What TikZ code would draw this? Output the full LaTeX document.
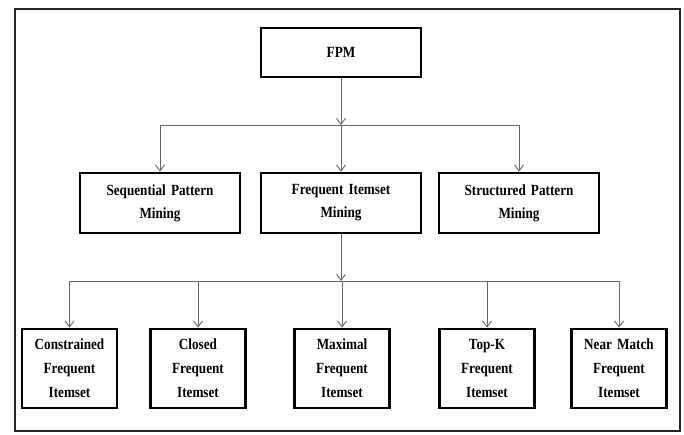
\documentclass[tikz,border=0pt]{standalone}
\usepackage{fontspec}
\setmainfont{Liberation Serif}
\newfontfamily\condfont[FakeStretch=0.85]{Liberation Serif}
\usetikzlibrary{arrows.meta}
\begin{document}
\begin{tikzpicture}[x=1pt,y=-1pt,
  box/.style={draw=black,line width=2.8pt,fill=white,inner sep=0pt,align=center,
    font=\condfont\bfseries\fontsize{15.5}{23}\selectfont},
  topbox/.style={box,minimum width=160pt,minimum height=49pt},
  midbox/.style={box,minimum width=160pt,minimum height=60pt,text width=150pt},
  lowbox/.style={box,minimum width=95pt,minimum height=79pt,text width=90pt,
    font=\condfont\bfseries\fontsize{15.5}{24}\selectfont},
  link/.style={draw=black!60,line width=0.9pt},
  arr/.style={link,-{Straight Barb[length=6pt,width=9pt,line width=0.9pt]}}]
\useasboundingbox (0,0) rectangle (684,434);
\fill[white] (0,0) rectangle (684,434);
\draw[line width=2pt,draw=black!85] (15,9) rectangle (680,431);

\node[topbox] (fpm) at (341,52.5) {FPM};

\node[midbox] (seq) at (160,203) {Sequential Pattern\\Mining};
\node[midbox] (fim) at (341,203) {Frequent Itemset\\Mining};
\node[midbox] (str) at (519,203) {Structured Pattern\\Mining};

\node[lowbox] (con) at (69.5,368.5) {Constrained\\Frequent\\Itemset};
\node[lowbox] (clo) at (198,368.5) {Closed\\Frequent\\Itemset};
\node[lowbox] (max) at (342,368.5) {Maximal\\Frequent\\Itemset};
\node[lowbox] (top) at (487,368.5) {Top-K\\Frequent\\Itemset};
\node[lowbox] (nea) at (619,368.5) {Near Match\\Frequent\\Itemset};

\coordinate (j1) at (341,125);
\coordinate (j2) at (341,281);

\draw[arr] (fpm.south) -- (j1);
\draw[link] (j1 -| seq.north) -- (j1 -| str.north);
\draw[arr] (j1 -| seq.north) -- (seq.north);
\draw[arr] (j1) -- (fim.north);
\draw[arr] (j1 -| str.north) -- (str.north);

\draw[arr] (fim.south) -- (j2);
\draw[link] (j2 -| con.north) -- (j2 -| nea.north);
\draw[arr] (j2 -| con.north) -- (con.north);
\draw[arr] (j2 -| clo.north) -- (clo.north);
\draw[arr] (j2 -| max.north) -- (max.north);
\draw[arr] (j2 -| top.north) -- (top.north);
\draw[arr] (j2 -| nea.north) -- (nea.north);
\end{tikzpicture}
\end{document}
